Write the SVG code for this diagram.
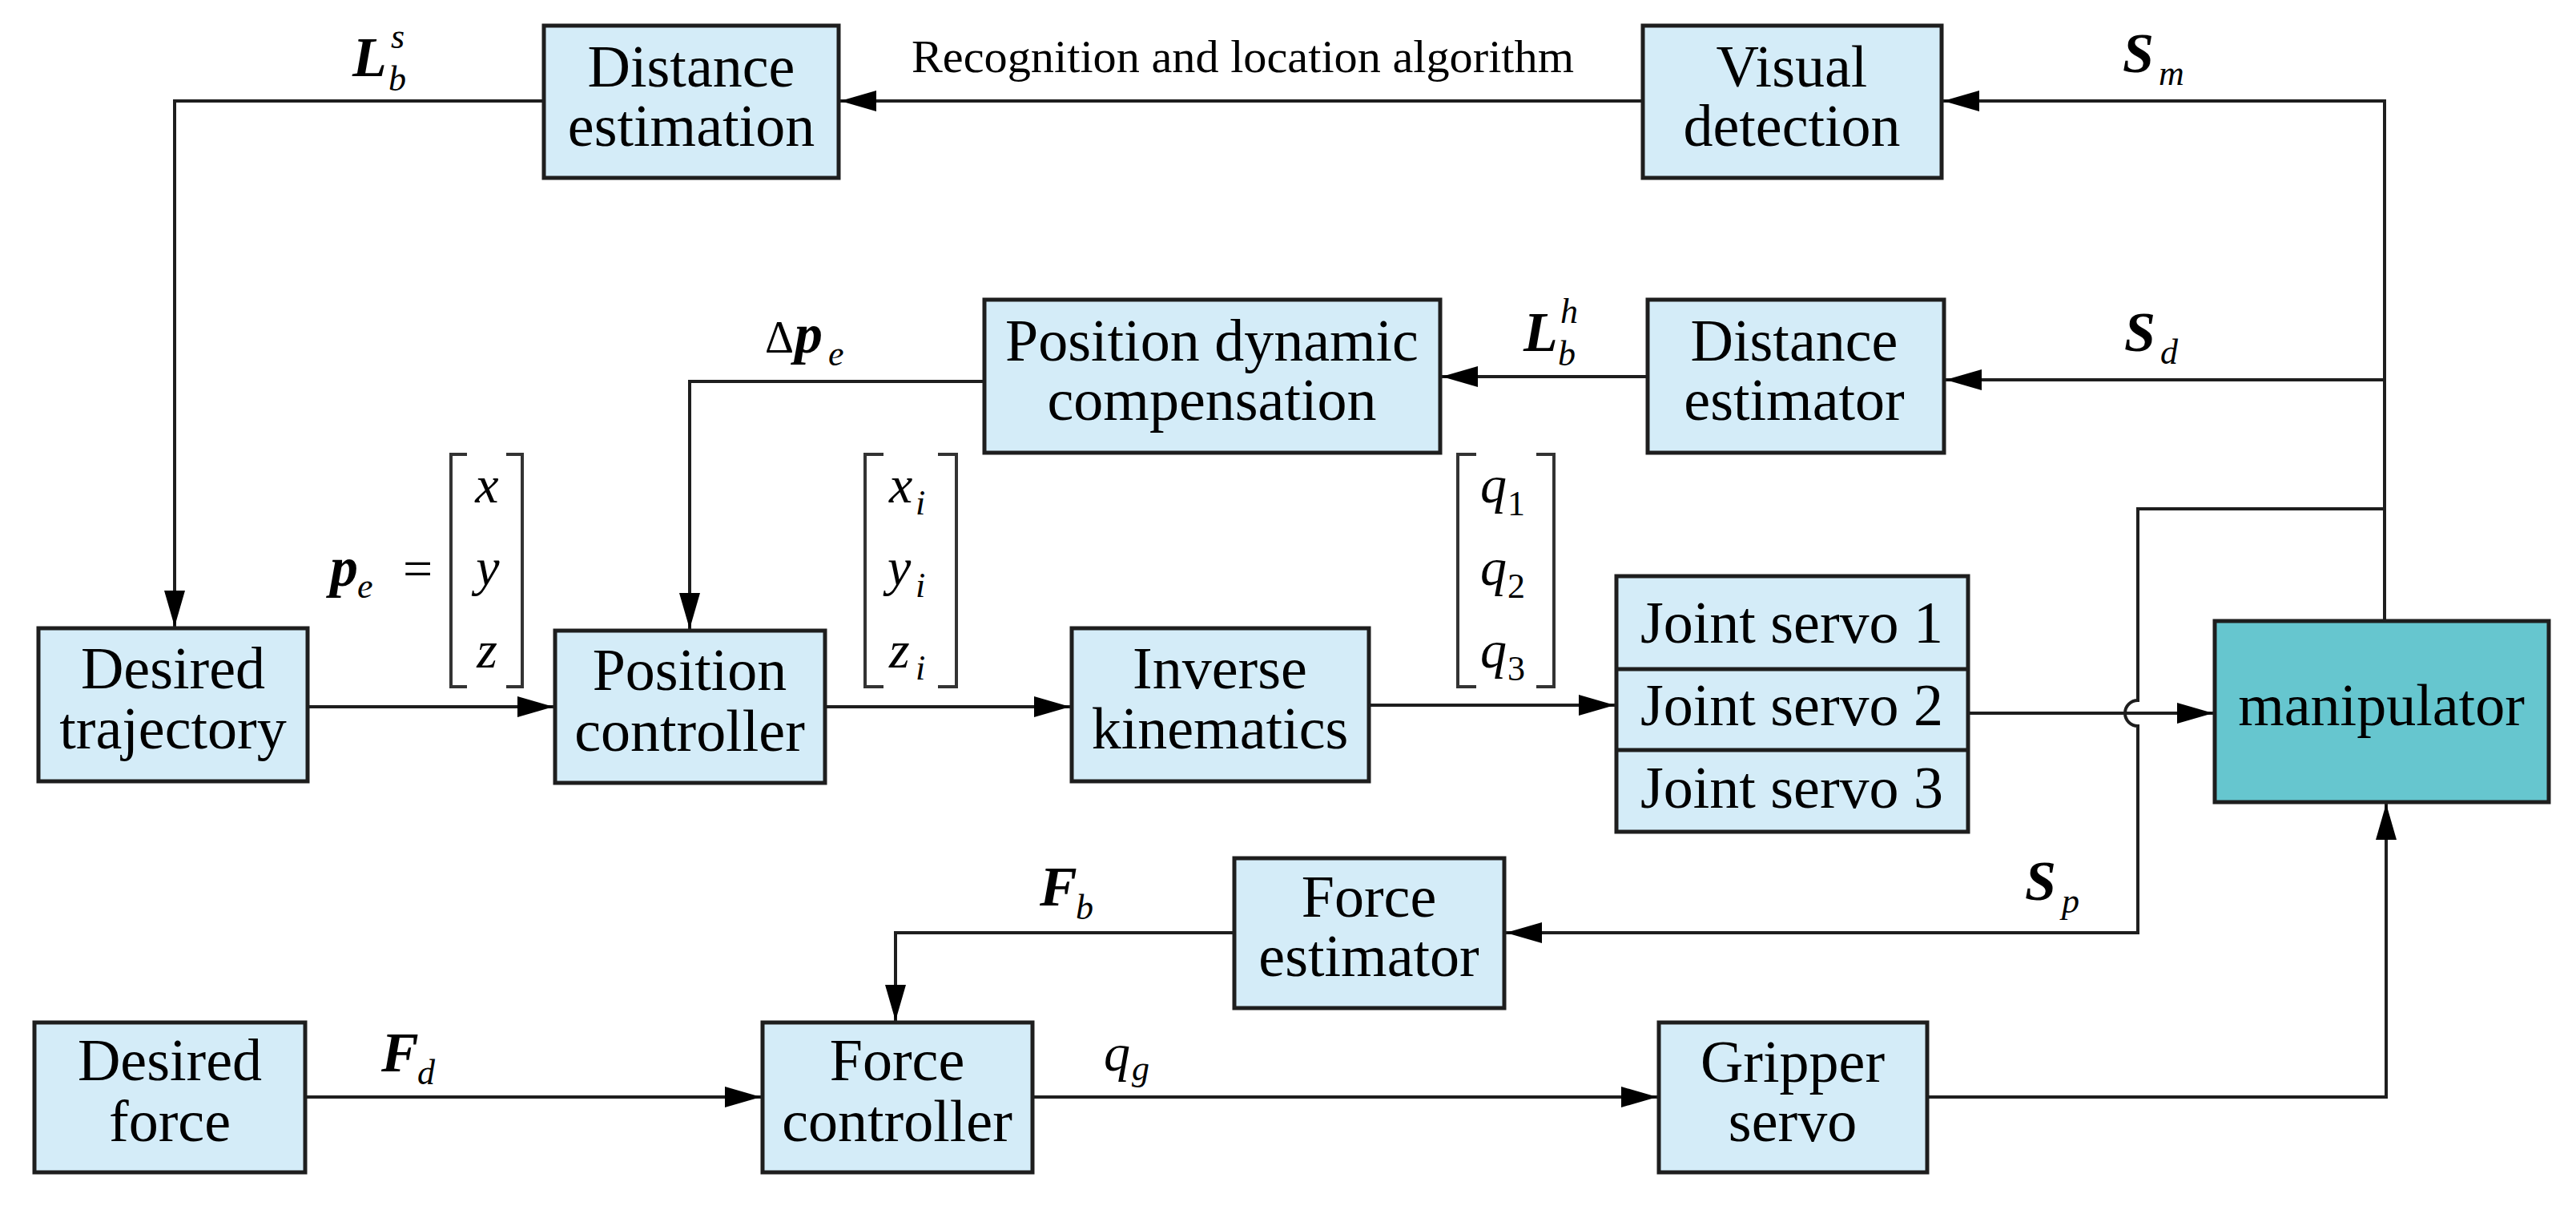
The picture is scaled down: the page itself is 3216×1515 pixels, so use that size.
<svg xmlns="http://www.w3.org/2000/svg" width="3216" height="1515" viewBox="0 0 3216 1515" font-family="'Liberation Serif', 'Times New Roman', serif">
<defs>
<style>
.box{fill:#d4ecf8;stroke:#1e1e1e;stroke-width:5}
.mani{fill:#66c6cf;stroke:#1e1e1e;stroke-width:5}
.t{font-size:74px;fill:#000;text-anchor:middle}
.ln{fill:none;stroke:#1e1e1e;stroke-width:4}
.br{fill:none;stroke:#333;stroke-width:4}
.lab{font-size:70px;fill:#000;font-style:italic;font-weight:bold}
.sub{font-size:44px;fill:#000;font-style:italic;font-weight:normal}
.it{font-size:66px;fill:#000;font-style:italic}
.rg{font-size:66px;fill:#000}
.num{font-size:44px;fill:#000}
</style>
<marker id="ah" markerUnits="userSpaceOnUse" markerWidth="46" markerHeight="28" refX="45" refY="13" orient="auto">
<path d="M0,0 L45,13 L0,26 Z" fill="#000"/>
</marker>
</defs>
<rect width="3216" height="1515" fill="#fff"/>

<g id="connectors">
<path class="ln" d="M2051,126 H1049" marker-end="url(#ah)"/>
<path class="ln" d="M679,126 H218 V782" marker-end="url(#ah)"/>
<path class="ln" d="M2977,775 V126 H2426" marker-end="url(#ah)"/>
<path class="ln" d="M2977,474 H2429" marker-end="url(#ah)"/>
<path class="ln" d="M2057,470 H1800" marker-end="url(#ah)"/>
<path class="ln" d="M1229,476 H861 V785" marker-end="url(#ah)"/>
<path class="ln" d="M384,882 H691" marker-end="url(#ah)"/>
<path class="ln" d="M1030,882 H1336" marker-end="url(#ah)"/>
<path class="ln" d="M1709,880 H2016" marker-end="url(#ah)"/>
<path class="ln" d="M2457,890 H2763" marker-end="url(#ah)"/>
<path class="ln" d="M2977,635 H2669 V874 A16,16 0 0 0 2669,906 V1164 H1880" marker-end="url(#ah)"/>
<path class="ln" d="M1541,1164 H1118 V1274" marker-end="url(#ah)"/>
<path class="ln" d="M381,1369 H950" marker-end="url(#ah)"/>
<path class="ln" d="M1289,1369 H2069" marker-end="url(#ah)"/>
<path class="ln" d="M2406,1369 H2979 V1003" marker-end="url(#ah)"/>
</g>

<g id="distance-estimation">
<rect class="box" x="679" y="32" width="368" height="190"/>
<text class="t" x="863" y="108">Distance</text>
<text class="t" x="863" y="182">estimation</text>
</g>
<g id="visual-detection">
<rect class="box" x="2051" y="32" width="373" height="190"/>
<text class="t" x="2237" y="108">Visual</text>
<text class="t" x="2237" y="182">detection</text>
</g>
<g id="position-dynamic-compensation">
<rect class="box" x="1229" y="374" width="569" height="191"/>
<text class="t" x="1513" y="450">Position dynamic</text>
<text class="t" x="1513" y="524">compensation</text>
</g>
<g id="distance-estimator">
<rect class="box" x="2057" y="374" width="370" height="191"/>
<text class="t" x="2240" y="450">Distance</text>
<text class="t" x="2240" y="524">estimator</text>
</g>
<g id="desired-trajectory">
<rect class="box" x="48" y="784" width="336" height="191"/>
<text class="t" x="216" y="859">Desired</text>
<text class="t" x="216" y="934">trajectory</text>
</g>
<g id="position-controller">
<rect class="box" x="693" y="787" width="337" height="190"/>
<text class="t" x="861" y="861">Position</text>
<text class="t" x="861" y="937">controller</text>
</g>
<g id="inverse-kinematics">
<rect class="box" x="1338" y="784" width="371" height="191"/>
<text class="t" x="1523" y="859">Inverse</text>
<text class="t" x="1523" y="934">kinematics</text>
</g>
<g id="joint-servos">
<rect class="box" x="2018" y="719" width="439" height="319"/>
<path class="ln" style="stroke-width:5" d="M2018,835 H2457 M2018,936 H2457"/>
<text class="t" x="2237" y="802">Joint servo 1</text>
<text class="t" x="2237" y="905">Joint servo 2</text>
<text class="t" x="2237" y="1008">Joint servo 3</text>
</g>
<g id="manipulator">
<rect class="mani" x="2765" y="775" width="417" height="226"/>
<text class="t" x="2973" y="905">manipulator</text>
</g>
<g id="force-estimator">
<rect class="box" x="1541" y="1071" width="337" height="187"/>
<text class="t" x="1709" y="1144">Force</text>
<text class="t" x="1709" y="1218">estimator</text>
</g>
<g id="desired-force">
<rect class="box" x="43" y="1276" width="338" height="187"/>
<text class="t" x="212" y="1348">Desired</text>
<text class="t" x="212" y="1424">force</text>
</g>
<g id="force-controller">
<rect class="box" x="952" y="1276" width="337" height="187"/>
<text class="t" x="1120" y="1348">Force</text>
<text class="t" x="1120" y="1424">controller</text>
</g>
<g id="gripper-servo">
<rect class="box" x="2071" y="1276" width="335" height="187"/>
<text class="t" x="2238" y="1350">Gripper</text>
<text class="t" x="2238" y="1424">servo</text>
</g>

<g id="labels">
<text x="1138" y="90" font-size="58" textLength="827" lengthAdjust="spacingAndGlyphs">Recognition and location algorithm</text>
<text class="lab" x="440" y="95">L</text><text class="sub" x="488" y="60">s</text><text class="sub" x="485" y="113">b</text>
<text class="lab" x="1902" y="438">L</text><text class="sub" x="1948" y="403">h</text><text class="sub" x="1945" y="456">b</text>
<text class="lab" x="2650" y="90">S</text><text class="sub" x="2695" y="106">m</text>
<text class="lab" x="2652" y="438">S</text><text class="sub" x="2697" y="454">d</text>
<text class="lab" x="2528" y="1123">S</text><text class="sub" x="2574" y="1139">p</text>
<text class="lab" x="1298" y="1130">F</text><text class="sub" x="1343" y="1147">b</text>
<text class="lab" x="476" y="1337">F</text><text class="sub" x="521" y="1353">d</text>
<text class="it" x="1378" y="1336">q</text><text class="sub" x="1413" y="1348">g</text>
<text class="rg" x="955" y="440" style="font-size:56px">Δ</text><text class="lab" x="992" y="440">p</text><text class="sub" x="1034" y="456">e</text>
<text class="lab" x="412" y="731">p</text><text class="sub" x="446" y="746">e</text><text class="rg" x="503" y="732">=</text>
</g>

<g id="vector-pe">
<path class="br" d="M583,567 H563 V857 H583 M632,567 H652 V857 H632"/>
<text class="it" x="608" y="627" text-anchor="middle">x</text>
<text class="it" x="609" y="730" text-anchor="middle">y</text>
<text class="it" x="608" y="833" text-anchor="middle">z</text>
</g>
<g id="vector-xi">
<path class="br" d="M1103,567 H1080 V857 H1103 M1171,567 H1194 V857 H1171"/>
<text class="it" x="1110" y="627">x</text><text class="sub" x="1143" y="642">i</text>
<text class="it" x="1108" y="730">y</text><text class="sub" x="1143" y="745">i</text>
<text class="it" x="1110" y="833">z</text><text class="sub" x="1143" y="848">i</text>
</g>
<g id="vector-q">
<path class="br" d="M1843,567 H1820 V857 H1843 M1918,567 H1940 V857 H1918"/>
<text class="it" x="1848" y="627">q</text><text class="num" x="1882" y="643">1</text>
<text class="it" x="1848" y="730">q</text><text class="num" x="1882" y="746">2</text>
<text class="it" x="1848" y="833">q</text><text class="num" x="1882" y="849">3</text>
</g>
</svg>
